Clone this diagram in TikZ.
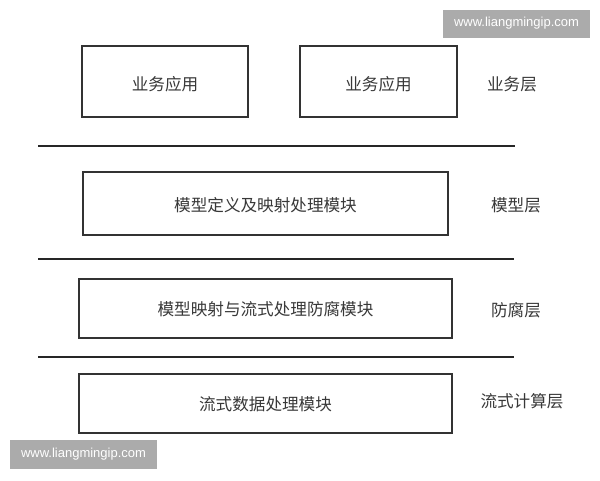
\documentclass[tikz,border=0pt]{standalone}
\usepackage{fontspec}
\setmainfont{Liberation Sans}
\newfontfamily\cjk{Noto Sans CJK SC}
\begin{document}
\begin{tikzpicture}[x=1pt,y=-1pt,
  layerbox/.style={draw=black!80,line width=2.4pt,fill=white},
  boxtext/.style={font=\cjk\fontsize{16.6}{19}\selectfont,text=black!78},
  sepline/.style={draw=black!85,line width=2pt},
  wmark/.style={fill=black!33,draw=none,inner sep=0pt,text=white,font=\fontsize{13}{15}\selectfont}]
\useasboundingbox (0,0) rectangle (600,480);
\fill[white] (0,0) rectangle (600,480);
% boxes
\draw[layerbox] (82,46) rectangle (248,117);
\node[boxtext] (b1) at (165,84) {业务应用};
\draw[layerbox] (300,46) rectangle (457,117);
\node[boxtext] (b2) at (378.5,84) {业务应用};
\node[boxtext] (l1) at (512,84.5) {业务层};
\coordinate (s1a) at (38,146); \coordinate (s1b) at (515,146);
\draw[sepline] (s1a) -- (s1b);
\draw[layerbox] (83,172) rectangle (448,235);
\node[boxtext] (b3) at (265.5,205) {模型定义及映射处理模块};
\node[boxtext] (l2) at (516,205) {模型层};
\coordinate (s2a) at (38,259); \coordinate (s2b) at (514,259);
\draw[sepline] (s2a) -- (s2b);
\draw[layerbox] (79,279) rectangle (452,338);
\node[boxtext] (b4) at (265.5,309.5) {模型映射与流式处理防腐模块};
\node[boxtext] (l3) at (516,310) {防腐层};
\coordinate (s3a) at (38,357); \coordinate (s3b) at (514,357);
\draw[sepline] (s3a) -- (s3b);
\draw[layerbox] (79,374) rectangle (452,433);
\node[boxtext] (b5) at (265.5,404) {流式数据处理模块};
\node[boxtext] (l4) at (522,401.5) {流式计算层};
% watermarks
\node[wmark,minimum width=147pt,minimum height=28pt] (w1) at (516.5,23.5) {www.liangmingip.com};
\node[wmark,minimum width=147pt,minimum height=29pt] (w2) at (83.5,454.5) {www.liangmingip.com};
\end{tikzpicture}
\end{document}
